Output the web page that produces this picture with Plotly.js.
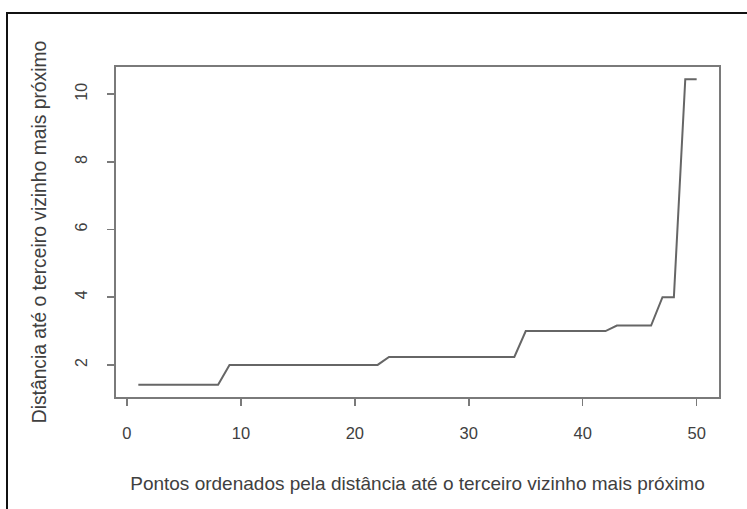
<!DOCTYPE html>
<html>
<head>
<meta charset="utf-8">
<script src="https://cdn.plot.ly/plotly-3.0.1.min.js"></script>
<style>
  html, body { margin: 0; padding: 0; background: #fff; }
  #wrap { position: relative; width: 747px; height: 509px; overflow: hidden; }
  #chart { position: absolute; left: 0; top: 0; width: 747px; height: 509px; }
  #frame { position: absolute; left: 6px; top: 12px; width: 760px; height: 520px;
           border-top: 2px solid #111; border-left: 2px solid #111; pointer-events: none; }
</style>
</head>
<body>
<div id="wrap">
  <div id="chart"></div>
  <div id="frame"></div>
</div>
<script>
// Sorted distances to the 3rd nearest neighbour
const pointIndex = [];
for (let i = 1; i <= 50; i++) pointIndex.push(i);
const distances = [
  1.414, 1.414, 1.414, 1.414, 1.414, 1.414, 1.414, 1.414,
  2.0, 2.0, 2.0, 2.0, 2.0, 2.0, 2.0, 2.0, 2.0, 2.0, 2.0, 2.0, 2.0, 2.0,
  2.236, 2.236, 2.236, 2.236, 2.236, 2.236, 2.236, 2.236, 2.236, 2.236, 2.236, 2.236,
  3.0, 3.0, 3.0, 3.0, 3.0, 3.0, 3.0, 3.0,
  3.162, 3.162, 3.162, 3.162,
  4.0, 4.0,
  10.44, 10.44
];
const xTickVals = [0, 10, 20, 30, 40, 50];
const yTickVals = [2, 4, 6, 8, 10];
const xTitle = 'Pontos ordenados pela distância até o terceiro vizinho mais próximo';
const yTitle = 'Distância até o terceiro vizinho mais próximo';

const ext = (a) => { const mn = Math.min(...a), mx = Math.max(...a), d = (mx - mn) * 0.04; return [mn - d, mx + d]; };

const fontFam = 'Liberation Sans, Arial, sans-serif';
const txt = '#404040';
const axisCol = '#7a7a7a';

Plotly.newPlot('chart', [{
  x: pointIndex, y: distances, type: 'scatter', mode: 'lines',
  line: { color: '#666666', width: 2 }, hoverinfo: 'skip'
}], {
  width: 747, height: 509,
  margin: { l: 116, r: 28, t: 67, b: 112 },
  paper_bgcolor: '#fff', plot_bgcolor: '#fff',
  showlegend: false,
  font: { family: fontFam, size: 16, color: txt },
  xaxis: {
    range: ext(pointIndex), tickvals: xTickVals, ticktext: xTickVals.map(String),
    showgrid: false, zeroline: false, showline: true, mirror: true,
    linecolor: axisCol, linewidth: 2, ticks: 'outside', ticklen: 7, tickwidth: 1.5,
    tickcolor: axisCol, ticklabelstandoff: 13,
    tickfont: { family: fontFam, size: 16.5, color: txt },
    title: { text: xTitle, standoff: 36, font: { family: fontFam, size: 19, color: txt } }
  },
  yaxis: {
    range: ext(distances), tickvals: yTickVals, ticktext: yTickVals.map(String),
    showgrid: false, zeroline: false, showline: true, mirror: true,
    linecolor: axisCol, linewidth: 2, ticks: 'outside', ticklen: 7, tickwidth: 1.5,
    tickcolor: axisCol, tickangle: -90, ticklabelstandoff: 14,
    tickfont: { family: fontFam, size: 16, color: txt },
    title: { text: yTitle, standoff: 21, font: { family: fontFam, size: 19.3, color: txt } }
  }
}, { staticPlot: true });
</script>
</body>
</html>
